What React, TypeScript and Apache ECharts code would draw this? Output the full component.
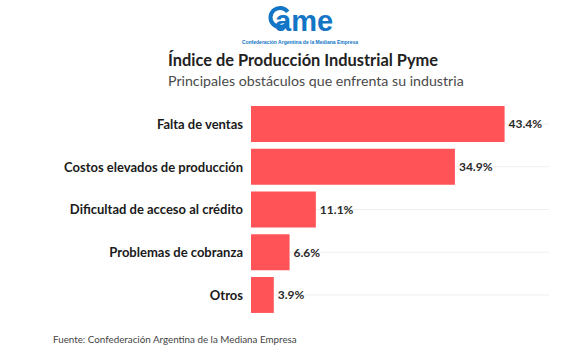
import React, { useEffect, useRef } from "react";
import * as echarts from "echarts";

const categories = [
  "Falta de ventas",
  "Costos elevados de producción",
  "Dificultad de acceso al crédito",
  "Problemas de cobranza",
  "Otros",
];
const values = [43.4, 34.9, 11.1, 6.6, 3.9];
const axisMax = 51;

const title = "Índice de Producción Industrial Pyme";
const subtitle = "Principales obstáculos que enfrenta su industria";
const source = "Fuente: Confederación Argentina de la Mediana Empresa";
const logoText = "ame";
const logoCaption = "Confederación Argentina de la Mediana Empresa";

const FONT = "Lato, 'Noto Sans', sans-serif";
const LOGO_FONT = "'Liberation Sans', Arial, sans-serif";
const BLUE = "#1275c6";

export default function App() {
  const ref = useRef<HTMLDivElement>(null);
  useEffect(() => {
    if (!ref.current) return;
    const chart = echarts.init(ref.current, null, { renderer: "svg" });
    chart.setOption({
      animation: false,
      backgroundColor: "#ffffff",
      textStyle: { fontFamily: FONT },
      grid: { left: 251, right: 38, top: 102.6, height: 213.75 },
      xAxis: {
        type: "value",
        min: 0,
        max: axisMax,
        show: false,
      },
      yAxis: {
        type: "category",
        inverse: true,
        data: categories,
        axisLine: { show: false },
        axisTick: { show: false },
        splitLine: { show: false },
        axisLabel: {
          margin: 8,
          fontFamily: FONT,
          fontWeight: "bold",
          fontSize: 13,
          color: "#1a1a1a",
        },
      },
      graphic: [
        {
          type: "arc",
          shape: { cx: 280, cy: 17.5, r: 9.5, startAngle: Math.PI * 0.22, endAngle: Math.PI * 1.8, clockwise: true },
          style: { stroke: BLUE, lineWidth: 4, fill: "none" },
        },
        {
          type: "text",
          x: 275,
          y: 20.5,
          style: {
            text: logoText,
            fontFamily: LOGO_FONT,
            fontWeight: "bold",
            fontSize: 29,
            fill: BLUE,
            verticalAlign: "middle",
            textAlign: "left",
          },
        },
        {
          type: "text",
          x: 300,
          y: 42,
          style: {
            text: logoCaption,
            fontFamily: LOGO_FONT,
            fontWeight: "bold",
            fontSize: 5,
            fill: BLUE,
            verticalAlign: "middle",
            textAlign: "center",
          },
        },
        {
          type: "text",
          x: 168,
          y: 59,
          style: {
            text: title,
            fontFamily: FONT,
            fontWeight: "bold",
            fontSize: 16.4,
            fill: "#222222",
            verticalAlign: "middle",
            textAlign: "left",
          },
        },
        {
          type: "text",
          x: 168,
          y: 80,
          style: {
            text: subtitle,
            fontFamily: FONT,
            fontSize: 14.2,
            fill: "#4a4a4a",
            verticalAlign: "middle",
            textAlign: "left",
          },
        },
        {
          type: "text",
          x: 53,
          y: 339,
          style: {
            text: source,
            fontFamily: FONT,
            fontSize: 9.8,
            fill: "#444444",
            verticalAlign: "middle",
            textAlign: "left",
          },
        },
      ],
      series: [
        {
          type: "custom",
          silent: true,
          z: 1,
          data: categories.map((_, i) => i),
          renderItem: (params: any, api: any) => {
            const idx = api.value(0);
            const p0 = api.coord([0, idx]);
            const p1 = api.coord([axisMax, idx]);
            return {
              type: "line",
              shape: { x1: p0[0], y1: p0[1], x2: p1[0], y2: p1[1] },
              style: { stroke: "#efefef", lineWidth: 1 },
            };
          },
          encode: { x: -1, y: 0 },
        },
        {
          type: "bar",
          z: 2,
          data: values,
          barCategoryGap: "16%",
          itemStyle: { color: "#ff5358" },
          label: {
            show: true,
            position: "right",
            distance: 4,
            fontFamily: FONT,
            fontWeight: "bold",
            fontSize: 12,
            color: "#2a2a2a",
            formatter: (p: any) => `${Number(p.value).toFixed(1)}%`,
          },
        },
      ],
    });
    return () => chart.dispose();
  }, []);
  return (
    <div
      ref={ref}
      style={{ position: "fixed", left: 0, top: 0, width: 587, height: 356 }}
    />
  );
}
